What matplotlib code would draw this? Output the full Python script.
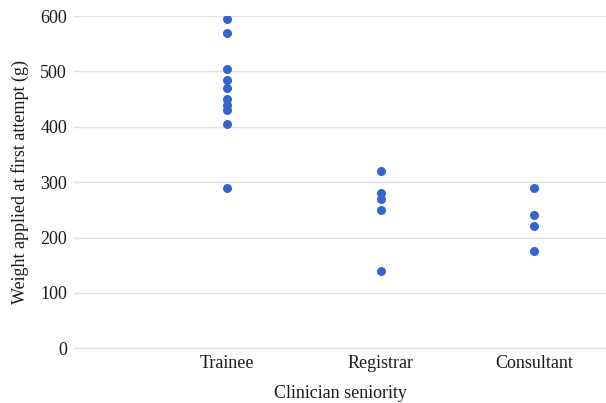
import matplotlib
matplotlib.use("Agg")
import matplotlib.pyplot as plt

# data
categories = ["Trainee", "Registrar", "Consultant"]
trainee = [595, 570, 504, 484, 470, 450, 440, 430, 405, 290]
registrar = [320, 280, 270, 250, 140]
consultant = [290, 240, 220, 175]
groups = [trainee, registrar, consultant]
yticks = [0, 100, 200, 300, 400, 500, 600]

plt.rcParams["font.family"] = ["Liberation Serif", "DejaVu Serif"]

fig = plt.figure(figsize=(6.06, 4.03), dpi=100)
ax = fig.add_axes([0.122, 0.136, 0.878, 0.824])

for i, vals in enumerate(groups):
    ax.plot([i + 1] * len(vals), vals, "o", color="#3366cc", markersize=6.5, markeredgewidth=0, zorder=3)

ax.set_xlim(0, 3.47)
ax.set_ylim(0, 600)
ax.set_xticks([1, 2, 3])
ax.set_xticklabels(categories)
ax.set_yticks(yticks)
ax.grid(axis="y", color="#e0e0e0", linewidth=1)
ax.set_axisbelow(True)
for s in ["top", "right", "left"]:
    ax.spines[s].set_visible(False)
ax.spines["bottom"].set_color("#e0e0e0")
ax.tick_params(length=0, labelsize=13, colors="#1a1a1a")
ax.tick_params(axis="x", pad=5)
ax.tick_params(axis="y", pad=5)
ax.set_xlabel("Clinician seniority", fontsize=13, color="#1a1a1a", labelpad=9)
ax.set_ylabel("Weight applied at first attempt (g)", fontsize=13, color="#1a1a1a", labelpad=8)

fig.savefig("out.png", dpi=100)
